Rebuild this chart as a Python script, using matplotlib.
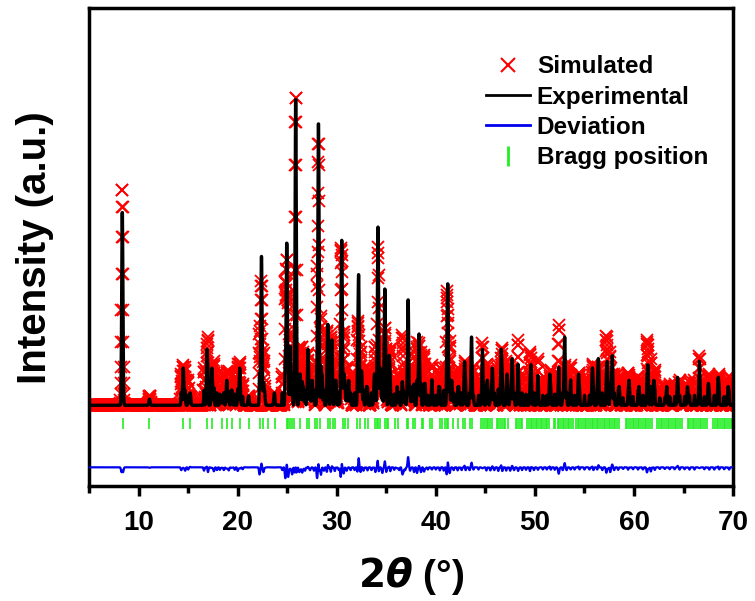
import numpy as np
import matplotlib.pyplot as plt
from matplotlib.lines import Line2D

# main reflections: position (2theta), experimental height, simulated height
peak_pos = [8.35, 11.1, 14.5, 15.2, 16.9, 17.4, 18.4, 18.9, 19.4, 20.2, 21.1, 22.4, 22.7,
            23.7, 24.95, 25.3, 25.85, 26.3, 26.6, 27.1, 27.5, 28.15, 28.5, 29.1, 29.5, 29.9,
            30.5, 30.8, 31.2, 32.2, 32.5, 33.0, 33.8, 34.15, 34.4, 34.85, 35.3, 36.1, 36.7,
            37.2, 37.6, 38.3, 38.9, 39.6, 40.3, 41.2, 41.6, 42.3, 42.9, 43.6, 44.7, 45.2,
            45.7, 46.6, 47.2, 47.7, 48.3, 49.6, 50.3, 51.5, 52.4, 53.0, 53.6, 54.4, 55.8,
            56.4, 57.3, 57.8, 58.5, 59.5, 60.5, 61.4, 62.0, 63.3, 64.4, 65.4, 66.6, 67.5,
            68.5, 69.5]
exp_h = [0.63, 0.02, 0.12, 0.04, 0.18, 0.12, 0.03, 0.08, 0.05, 0.12, 0.03, 0.48, 0.05,
         0.04, 0.53, 0.19, 1.00, 0.10, 0.06, 0.18, 0.08, 0.92, 0.10, 0.26, 0.21, 0.08,
         0.53, 0.08, 0.08, 0.42, 0.11, 0.06, 0.10, 0.53, 0.12, 0.38, 0.16, 0.06, 0.05,
         0.34, 0.06, 0.23, 0.07, 0.05, 0.06, 0.39, 0.08, 0.06, 0.14, 0.22, 0.14, 0.08,
         0.12, 0.18, 0.10, 0.15, 0.08, 0.13, 0.06, 0.10, 0.07, 0.22, 0.05, 0.10, 0.12,
         0.15, 0.14, 0.16, 0.06, 0.08, 0.06, 0.13, 0.08, 0.06, 0.09, 0.06, 0.11, 0.07,
         0.09, 0.06]
sim_h = [0.70, 0.03, 0.13, 0.03, 0.16, 0.13, 0.04, 0.11, 0.06, 0.14, 0.03, 0.40, 0.06,
         0.04, 0.47, 0.22, 1.00, 0.15, 0.10, 0.17, 0.08, 0.85, 0.10, 0.20, 0.18, 0.08,
         0.44, 0.08, 0.08, 0.21, 0.10, 0.06, 0.10, 0.31, 0.12, 0.25, 0.14, 0.08, 0.16,
         0.12, 0.06, 0.20, 0.10, 0.05, 0.06, 0.27, 0.08, 0.06, 0.10, 0.12, 0.10, 0.08,
         0.10, 0.13, 0.10, 0.12, 0.08, 0.12, 0.06, 0.08, 0.13, 0.13, 0.05, 0.08, 0.10,
         0.10, 0.17, 0.10, 0.06, 0.08, 0.06, 0.16, 0.08, 0.06, 0.06, 0.06, 0.08, 0.07,
         0.07, 0.06]

# weak simulated reflections (fill the red band between the strong lines)
minor_pos = [14.3, 14.7, 15.0, 16.6, 17.0, 17.6, 17.9, 18.2, 18.6, 19.1, 19.7, 20.0, 20.5,
             22.2, 22.6, 24.5, 24.8, 25.1, 25.5, 26.2, 26.5, 26.8, 27.3, 27.7, 28.0, 28.4,
             28.7, 29.0, 29.4, 29.8, 30.2, 30.4, 30.7, 31.0, 31.4, 31.8, 32.1, 32.4, 32.7,
             33.1, 33.5, 33.9, 34.2, 34.6, 35.0, 35.4, 35.8, 36.3, 36.6, 36.9, 37.4, 37.8,
             38.1, 38.5, 38.8, 39.2, 39.6, 40.0, 40.4, 40.8, 41.1, 41.4, 41.8, 42.2, 42.6,
             43.0, 43.4, 43.8, 44.3, 44.7, 45.1, 45.5, 45.9, 46.3, 46.7, 47.1, 47.5, 47.9,
             48.3, 48.7, 49.1, 49.5, 49.9, 50.3, 50.8, 51.2, 51.6, 52.0, 52.4, 52.8, 53.2,
             53.6, 54.0, 54.5, 55.0, 55.5, 55.9, 56.3, 56.8, 57.2, 57.6, 58.0, 58.4, 58.9,
             59.4, 59.9, 60.4, 60.9, 61.3, 61.7, 62.1, 62.6, 63.1, 63.6, 64.1, 64.6, 65.1,
             65.6, 66.1, 66.6, 67.1, 67.6, 68.1, 68.6, 69.1, 69.6]
minor_h = [0.10, 0.12, 0.08, 0.12, 0.15, 0.14, 0.10, 0.09, 0.10, 0.11, 0.09, 0.13, 0.07,
           0.25, 0.15, 0.10, 0.35, 0.30, 0.25, 0.12, 0.15, 0.12, 0.10, 0.12, 0.30, 0.25,
           0.12, 0.15, 0.14, 0.12, 0.10, 0.30, 0.20, 0.12, 0.10, 0.10, 0.18, 0.15, 0.12,
           0.10, 0.10, 0.15, 0.25, 0.20, 0.15, 0.12, 0.09, 0.10, 0.16, 0.10, 0.12, 0.17,
           0.20, 0.17, 0.12, 0.08, 0.08, 0.08, 0.10, 0.12, 0.25, 0.20, 0.10, 0.10, 0.10,
           0.10, 0.10, 0.08, 0.08, 0.10, 0.10, 0.11, 0.10, 0.13, 0.13, 0.10, 0.12, 0.10,
           0.13, 0.10, 0.09, 0.12, 0.10, 0.09, 0.08, 0.08, 0.08, 0.09, 0.13, 0.10, 0.10,
           0.08, 0.08, 0.07, 0.08, 0.08, 0.09, 0.08, 0.10, 0.15, 0.17, 0.10, 0.08, 0.06,
           0.07, 0.07, 0.07, 0.08, 0.14, 0.15, 0.08, 0.06, 0.06, 0.07, 0.07, 0.08, 0.07,
           0.08, 0.08, 0.08, 0.07, 0.07, 0.08, 0.07, 0.07, 0.07]

# Bragg reflection positions
bragg_pos = [8.4, 11.0, 14.5, 15.2, 16.9, 17.4, 18.4, 18.9, 19.4, 20.2, 21.1, 22.3, 22.6,
             23.1, 23.8, 24.95, 25.12, 25.29, 25.52, 25.72, 26.30, 26.97, 27.20, 27.81,
             27.98, 28.31, 29.15, 29.32, 29.60, 29.83, 30.67, 30.84, 31.17, 32.02, 32.35,
             32.86, 33.19, 33.87, 34.04, 34.20, 34.37, 34.88, 35.05, 35.21, 35.89, 36.22,
             37.07, 37.23, 37.73, 37.90, 38.58, 38.74, 39.42, 39.59, 40.43, 40.60, 40.93,
             41.10, 41.27, 41.77, 42.27, 42.78, 42.95, 43.45, 43.62, 44.55, 44.72, 44.93,
             45.12, 45.30, 45.51, 45.66, 46.12, 46.31, 46.47, 46.69, 46.84, 47.02, 47.33,
             48.05, 48.22, 48.38, 48.56, 48.71, 49.22, 49.36, 49.57, 49.73, 49.90, 50.08,
             50.21, 50.42, 50.58, 50.74, 50.93, 51.08, 51.26, 51.43, 51.90, 52.07, 52.28,
             52.44, 52.61, 52.79, 52.95, 53.13, 53.30, 53.47, 53.64, 53.80, 54.15, 54.31,
             54.49, 54.66, 54.82, 55.03, 55.19, 55.37, 55.52, 55.71, 55.88, 56.06, 56.22,
             56.41, 56.57, 56.76, 56.92, 57.09, 57.27, 57.43, 57.61, 57.78, 57.95, 58.13,
             58.30, 58.48, 59.15, 59.32, 59.50, 59.66, 59.85, 60.01, 60.20, 60.36, 60.55,
             60.71, 60.90, 61.06, 61.25, 61.42, 61.60, 61.77, 62.35, 62.52, 62.70, 62.87,
             63.05, 63.21, 63.40, 63.56, 63.75, 63.91, 64.10, 64.26, 64.45, 64.62, 64.80,
             65.40, 65.57, 65.75, 65.92, 66.10, 66.27, 66.45, 66.62, 66.80, 66.97, 67.15,
             67.32, 68.00, 68.17, 68.35, 68.52, 68.70, 68.87, 69.05, 69.22, 69.40, 69.57,
             69.75, 69.90]

two_theta = np.arange(5.0, 70.001, 0.02)


def pattern(pos, h, sig):
    y = np.zeros_like(two_theta)
    for p, a in zip(pos, h):
        y += a * np.exp(-0.5 * ((two_theta - p) / sig) ** 2)
    return y


sim = pattern(peak_pos, sim_h, 0.07) + pattern(minor_pos, minor_h, 0.045)
exp = pattern(peak_pos, exp_h, 0.06) + 0.4 * pattern(minor_pos, minor_h, 0.035)
dev = -0.2 + 0.15 * (exp - sim)

fig = plt.figure(figsize=(7.55, 6.01), dpi=100)
ax = fig.add_axes([0.118, 0.191, 0.853, 0.795])

ax.plot(two_theta, sim, 'x', color='#ff0000', ms=8, mew=1.3, zorder=2)
ax.plot(two_theta, exp, '-', color='black', lw=2.4, zorder=3)
ax.plot(two_theta, dev, '-', color='#0000ee', lw=1.6, zorder=3)
ax.vlines(bragg_pos, -0.075, -0.04, color='#22ee22', lw=1.2, zorder=2)

ax.set_xlim(5, 70)
ax.set_ylim(-0.261, 1.28)
ax.set_yticks([])
ax.set_xticks(np.arange(10, 71, 10))
ax.set_xticks(np.arange(5, 71, 10), minor=True)
ax.tick_params(axis='x', which='major', direction='out', length=7, width=2.5, pad=10)
ax.tick_params(axis='x', which='minor', direction='out', length=5, width=2.5)
for lab in ax.get_xticklabels():
    lab.set_fontfamily('Liberation Sans')
    lab.set_fontweight('bold')
    lab.set_fontsize(20)
for s in ax.spines.values():
    s.set_linewidth(2.5)

ax.set_xlabel(r'$\mathbf{2}\boldsymbol{\theta}$ (°)', fontsize=28, fontweight='bold',
              family='Liberation Sans', labelpad=14)
ax.set_ylabel('Intensity (a.u.)', fontsize=29, fontweight='bold',
              family='Liberation Sans', labelpad=25)

handles = [Line2D([], [], ls='none', marker='x', color='#ff0000', ms=10, mew=1.5),
           Line2D([], [], color='black', lw=2),
           Line2D([], [], color='#0000ee', lw=2),
           Line2D([], [], ls='none', marker='|', color='#22ee22', ms=14, mew=2)]
ax.legend(handles, ['Simulated', 'Experimental', 'Deviation', 'Bragg position'],
          loc='upper left', bbox_to_anchor=(0.616, 0.902), frameon=False,
          prop={'family': 'Liberation Sans', 'weight': 'bold', 'size': 17.5},
          handlelength=1.8, handletextpad=0.3, labelspacing=0.3,
          borderpad=0, borderaxespad=0)

fig.savefig('out.png', dpi=100)
